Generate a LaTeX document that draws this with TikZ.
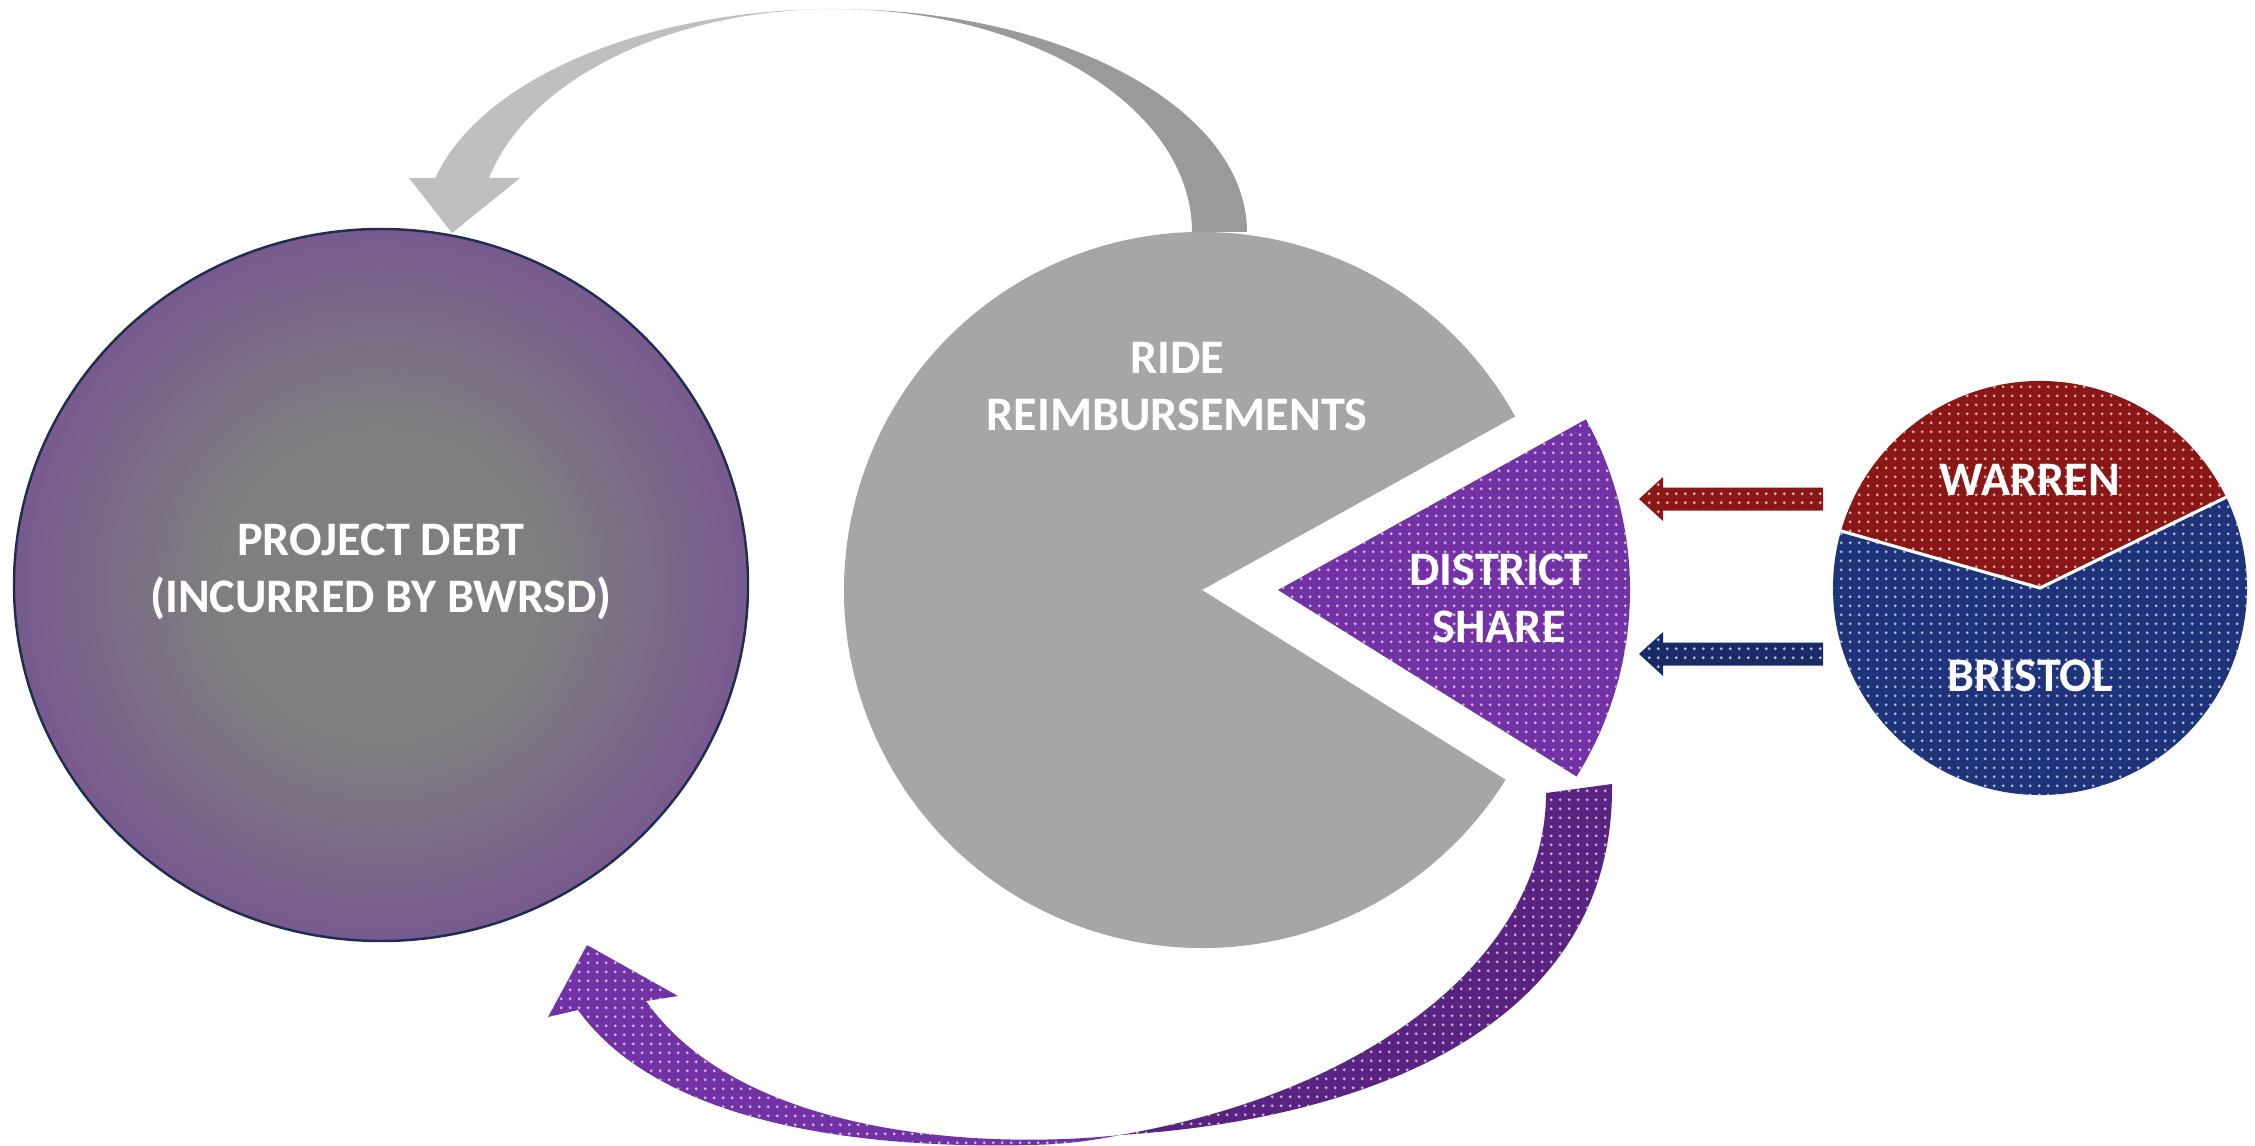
\documentclass[tikz,border=0pt]{standalone}
\usepackage{fontspec}
\setmainfont{Carlito}
\usepackage{tikz}
\usetikzlibrary{positioning,calc,patterns,arrows.meta}
\definecolor{debtgrey}{HTML}{7F7F7F}
\definecolor{debtpurple}{HTML}{785A8E}
\definecolor{debtline}{HTML}{1F2D50}
\definecolor{ridegrey}{HTML}{A6A6A6}
\definecolor{backlight}{HTML}{BFBFBF}
\definecolor{backdark}{HTML}{9A9A9A}
\definecolor{sharepurple}{HTML}{7232A6}
\definecolor{sharedark}{HTML}{5A2382}
\definecolor{warrenred}{HTML}{8A1616}
\definecolor{bristolblue}{HTML}{1E3379}
\pgfdeclareradialshading{debtglow}{\pgfpointorigin}{color(0bp)=(debtgrey); color(11bp)=(debtgrey); color(25bp)=(debtpurple); color(50bp)=(debtpurple)}
\pgfdeclarepatternformonly{finedots}{\pgfpointorigin}{\pgfqpoint{2.6pt}{2.6pt}}{\pgfqpoint{2.6pt}{2.6pt}}{\pgfpathcircle{\pgfqpoint{1.3pt}{1.3pt}}{0.5pt}\pgfusepath{fill}}
\tikzset{
	lbl/.style={text=white, font=\fontsize{13.7}{16.2}\selectfont\bfseries, align=center, inner sep=0pt},
	dotfill/.style 2 args={preaction={fill=#1}, pattern=finedots, pattern color=#2},
	leftblock/.style={to path={($(\tikztostart)+(0,-11.5)$) -- ($(\tikztotarget)+(24,-11.5)$) -- ($(\tikztotarget)+(24,-22)$) -- (\tikztotarget) -- ($(\tikztotarget)+(24,22)$) -- ($(\tikztotarget)+(24,11.5)$) -- ($(\tikztostart)+(0,11.5)$) -- cycle}}
}
\begin{document}
\begin{tikzpicture}[x=0.01cm, y=-0.01cm]
	\useasboundingbox (0,0) rectangle (2255,1146);
	\coordinate (debtc) at (381,585);
	\coordinate (ridec) at (1202,590);
	\coordinate (sharec) at (1278,590);
	\coordinate (townc) at (2040,588);
	\coordinate (wtail) at (1823,499);
	\coordinate (whead) at (1639,499);
	\coordinate (btail) at (1823,654);
	\coordinate (bhead) at (1639,654);

	\fill[backlight] (835,9) arc[start angle=270, end angle=194, x radius=412, y radius=223] -- (409,178) -- (452,233) -- (520,178) -- (489,178) arc[start angle=194, end angle=270, x radius=357, y radius=223] -- cycle;
	\fill[backdark] (835,9) arc[start angle=270, end angle=360, x radius=412, y radius=223] -- (1192,232) arc[start angle=0, end angle=-90, x radius=357, y radius=223] -- cycle;

	\fill[ridegrey] (ridec) -- ++(-29:358) arc[start angle=-29, end angle=-328, radius=358] -- cycle;
	\path[dotfill={sharepurple}{sharepurple!35!white}] (sharec) -- ++(32:352) arc[start angle=32, end angle=-29, radius=352] -- cycle;

	\path[dotfill={sharepurple}{sharepurple!35!white}] (578,1010) .. controls (650,1110) and (820,1150) .. (1031,1145) .. controls (1070,1144) and (1095,1140) .. (1120,1135) .. controls (980,1150) and (740,1135) .. (646,1001) -- (678,996) -- (587,945) -- (548,1017) -- cycle;
	\path[dotfill={sharedark}{sharedark!35!white}] (1120,1135) .. controls (1360,1120) and (1615,1030) .. (1612,784) -- (1546,793) .. controls (1546,950) and (1380,1090) .. (1120,1135) -- cycle;

	\shade[shading=debtglow, draw=debtline, line width=0.7pt] (debtc) ellipse [x radius=367, y radius=356];

	\path[dotfill={warrenred}{warrenred!35!white}] (townc) -- ++(-26:207) arc[start angle=-26, end angle=-164, radius=207] -- cycle;
	\path[dotfill={bristolblue}{bristolblue!35!white}] (townc) -- ++(-164:207) arc[start angle=-164, end angle=-386, radius=207] -- cycle;
	\draw[white, line width=0.9pt] ($(townc)+(-164:207)$) -- (townc) -- ($(townc)+(-26:207)$);

	\path[leftblock, dotfill={warrenred}{warrenred!35!white}] (wtail) to (whead);
	\path[leftblock, dotfill={bristolblue!85!black}{bristolblue!35!white}] (btail) to (bhead);

	\node[lbl] (debt) at (381,572) {PROJECT DEBT\\(INCURRED BY BWRSD)};
	\node[lbl] (ride) at (1177,387) {RIDE\\REIMBURSEMENTS};
	\node[lbl] (share) at (1499,598) {DISTRICT\\SHARE};
	\node[lbl] (warren) at (2030,480) {WARREN};
	\node[lbl, below of=warren, node distance=1.96cm] (bristol) {BRISTOL};
\end{tikzpicture}
\end{document}
